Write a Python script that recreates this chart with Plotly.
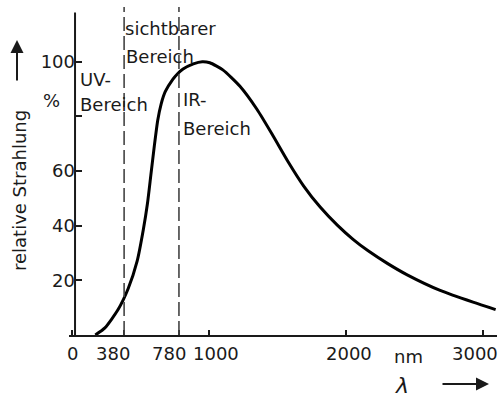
import plotly.graph_objects as go

# Relative radiation vs. wavelength (nm)
wavelength_nm = [170, 240, 335, 410, 475, 520, 550, 575, 600, 625, 650, 680, 735,
                 770, 810, 885, 950, 1005, 1100, 1225, 1350, 1465, 1575, 1690,
                 1810, 1935, 2050, 2160, 2300, 2445, 2685, 2925, 3090]
relative_pct = [0, 2.6, 9.2, 17, 27, 38.5, 48, 58.5, 69, 78.5, 84.5, 89, 93.5,
                95.6, 97.3, 99.2, 100, 99.6, 97, 91, 82.5, 73, 63.5, 54.5,
                46.8, 40.2, 35, 30.8, 26.2, 22, 16.3, 12, 9.3]

# Band limits (nm)
band_limits = [380, 780]

x_ticks = [0, 380, 780, 1000, 2000, 3000]
x_ticktext = ["0", "380", "780", "1000", "2000", "3000"]
x_label_shift = [0, -11, -10, 7, 3, -8]
y_ticks = [20, 40, 60, 80, 100]
y_ticktext = ["20", "40", "60", "", "100"]

FONT = "DejaVu Sans"
INK = "#1a1a1a"
FS = 18

W, H = 499, 400
L, R, T, B = 69, 2, 7, 65
PW, PH = W - L - R, H - T - B


def px(x):
    return (x - L) / PW


def py(y):
    return (H - B - y) / PH


fig = go.Figure()

fig.add_trace(go.Scatter(
    x=wavelength_nm, y=relative_pct, mode="lines",
    line=dict(color="black", width=3, shape="spline", smoothing=0.6),
    hoverinfo="skip", showlegend=False,
))

for b in band_limits:
    fig.add_shape(type="line", x0=b, x1=b, y0=0, y1=120, xref="x", yref="y",
                  line=dict(color="#444", width=1.6, dash="14px,5px"))

# vertical axis line
fig.add_shape(type="line", x0=22, x1=22, y0=0, y1=118, xref="x", yref="y",
              line=dict(color=INK, width=2))

# x tick labels
for v, t, s in zip(x_ticks, x_ticktext, x_label_shift):
    fig.add_annotation(x=v, y=py(353), xref="x", yref="paper", text=t,
                       showarrow=False, xanchor="center", yanchor="middle",
                       xshift=s, font=dict(family=FONT, size=FS, color=INK))


def txt(x, y, s, anchor="left", size=FS):
    fig.add_annotation(x=px(x), y=py(y), xref="paper", yref="paper",
                       text=s, showarrow=False, xanchor=anchor, yanchor="middle",
                       font=dict(family=FONT, size=size, color=INK))


txt(123, 29, "sichtbarer")
txt(124, 56, "Bereich")
txt(78, 80, "UV-")
txt(78, 104, "Bereich")
txt(181, 99, "IR-")
txt(181, 128, "Bereich")
txt(51, 100, "%", anchor="center")
txt(408, 356, "nm", anchor="center")
txt(402, 385, "<i>λ</i>", anchor="center", size=22)

# y axis title
fig.add_annotation(x=px(19), y=py(191), xref="paper", yref="paper",
                   text="relative Strahlung", textangle=-90, showarrow=False,
                   xanchor="center", yanchor="middle",
                   font=dict(family=FONT, size=FS, color=INK))

# arrows next to axis titles
fig.add_annotation(x=px(17), y=py(40), ax=0, ay=42,
                   xref="paper", yref="paper", axref="pixel", ayref="pixel",
                   text="", showarrow=True, arrowhead=2, arrowsize=1.3,
                   arrowwidth=2, arrowcolor=INK)
fig.add_annotation(x=px(489), y=py(384), ax=-48, ay=0,
                   xref="paper", yref="paper", axref="pixel", ayref="pixel",
                   text="", showarrow=True, arrowhead=2, arrowsize=1.3,
                   arrowwidth=2, arrowcolor=INK)

fig.update_layout(
    width=W, height=H,
    margin=dict(l=L, r=R, t=T, b=B),
    paper_bgcolor="white", plot_bgcolor="white",
    xaxis=dict(range=[-22, 3100], tickvals=x_ticks, showticklabels=False,
               showgrid=False, zeroline=False, showline=True, linecolor=INK,
               linewidth=2, ticks="inside", ticklen=5, tickwidth=1.5,
               tickcolor=INK),
    yaxis=dict(range=[0, 120], tickvals=y_ticks, ticktext=y_ticktext,
               anchor="free", position=px(75),
               showgrid=False, zeroline=False, showline=False,
               ticks="inside", ticklen=6, tickwidth=1.5, tickcolor=INK,
               tickfont=dict(family=FONT, size=FS, color=INK)),
)

fig.write_html("out.html")
